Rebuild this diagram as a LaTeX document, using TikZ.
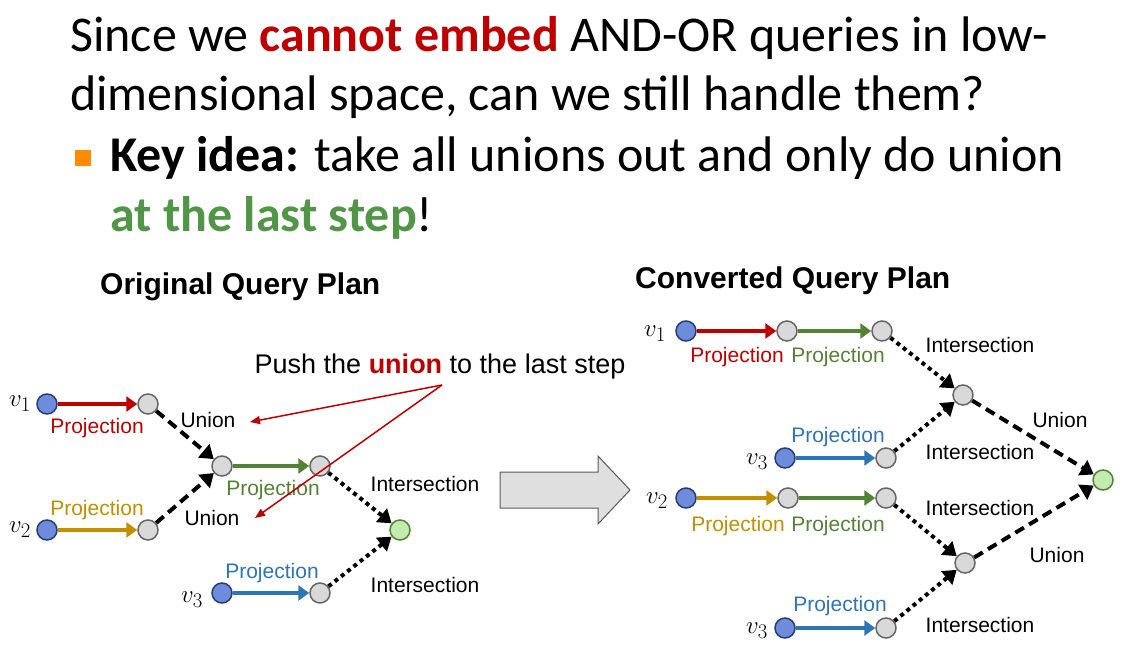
\documentclass[tikz,border=0pt]{standalone}
\usepackage{fontspec}
\setmainfont{Carlito}
\newfontfamily\arial{Liberation Sans}
\usetikzlibrary{arrows.meta}
\definecolor{cred}{RGB}{192,0,0}
\definecolor{cyel}{RGB}{191,144,0}
\definecolor{cgrn}{RGB}{84,130,53}
\definecolor{tgrn}{RGB}{80,150,70}
\definecolor{cblu}{RGB}{46,117,182}
\definecolor{nblu}{RGB}{110,140,220}
\definecolor{nbluo}{RGB}{40,60,120}
\begin{document}
\begin{tikzpicture}[x=1pt,y=-1pt,
  bn/.style={circle,draw=nbluo,fill=nblu,line width=1.5pt,minimum size=20pt,inner sep=0pt},
  gn/.style={circle,draw=gray!80!black,fill=gray!30,line width=1.5pt,minimum size=20pt,inner sep=0pt},
  en/.style={circle,draw=cgrn,fill=green!20!white!85!olive,line width=1.5pt,minimum size=20pt,inner sep=0pt},
  pr/.style={line width=4pt,-{Triangle[length=11pt,width=15pt]}},
  un/.style={line width=4pt,dash pattern=on 10pt off 6pt,-{Triangle[length=13pt,width=17pt]}},
  it/.style={line width=4pt,dash pattern=on 4pt off 4pt,-{Triangle[length=13pt,width=17pt]}},
  lb/.style={font=\arial\fontsize{21}{23}\selectfont,inner sep=1pt},
  vl/.style={font=\fontsize{28}{30}\selectfont,inner sep=0pt}]
\useasboundingbox (0,0) rectangle (1121,647);
% title
\node[anchor=west,inner sep=0pt,font=\fontsize{50}{56}\selectfont] (t1) at (70,38) {Since we \textbf{\color{cred}cannot embed} AND-OR queries in low-};
\node[anchor=west,inner sep=0pt,font=\fontsize{50}{56}\selectfont] (t2) at (70,97) {dimensional space, can we still handle them?};
\node[fill=orange!90!yellow,minimum size=16pt,inner sep=0pt] (bul) at (83,158) {};
\node[anchor=west,inner sep=0pt,font=\fontsize{50}{56}\selectfont] (t3) at (110,158) {\textbf{Key idea:} take all unions out and only do union};
\node[anchor=west,inner sep=0pt,font=\fontsize{50}{56}\selectfont] (t4) at (110,218) {\textbf{\color{tgrn}at the last step}!};
\node[anchor=west,inner sep=0pt,font=\arial\bfseries\fontsize{30}{34}\selectfont] (s1) at (100,287) {Original Query Plan};
\node[anchor=west,inner sep=0pt,font=\arial\bfseries\fontsize{30}{34}\selectfont] (s2) at (635,281) {Converted Query Plan};
% left diagram
\node[bn] (a1) at (47,404) {}; \node[vl] at (20,404) {$v_1$};
\node[gn] (a2) at (148,404) {};
\node[bn] (b1) at (47,530) {}; \node[vl] at (20,530) {$v_2$};
\node[gn] (b2) at (148,530) {};
\node[gn] (m1) at (222,466) {};
\node[gn] (m2) at (320,466) {};
\node[en] (e) at (400,530) {};
\node[bn] (c1) at (222,593) {}; \node[vl] at (192,600) {$v_3$};
\node[gn] (c2) at (320,593) {};
\draw[pr,cred] (a1) -- (a2); \node[lb,cred] at (97,428) {Projection};
\draw[pr,cyel] (b1) -- (b2); \node[lb,cyel] at (97,510) {Projection};
\draw[un] (a2) -- (m1); \node[lb] at (208,420) {Union};
\draw[un] (b2) -- (m1); \node[lb] at (212,518) {Union};
\draw[pr,cgrn] (m1) -- (m2); \node[lb,cgrn] at (273,490) {Projection};
\draw[it] (m2) -- (e); \node[lb] at (425,484) {Intersection};
\draw[pr,cblu] (c1) -- (c2); \node[lb,cblu] at (272,573) {Projection};
\draw[it] (c2) -- (e); \node[lb] at (425,585) {Intersection};
\node[lb,font=\arial\fontsize{27}{29}\selectfont] (push) at (440,367) {Push the \textbf{\color{cred}union} to the last step};
\coordinate (pf) at (442,385);
\coordinate (pa) at (250,422);
\coordinate (pb) at (255,518);
\draw[cred,line width=1.5pt,-{Triangle[length=10pt,width=8pt]}] (pf) -- (pa);
\draw[cred,line width=1.5pt,-{Triangle[length=10pt,width=8pt]}] (pf) -- (pb);
% big arrow
\draw[draw=gray!70!black,fill=gray!25,line width=1pt] (500,472) -- (598,472) -- (598,456) -- (630,490) -- (598,524) -- (598,508) -- (500,508) -- cycle;
% right diagram
\node[bn] (r1) at (686,331) {}; \node[vl] at (655,334) {$v_1$};
\node[gn] (r2) at (787,331) {};
\node[gn] (r3) at (882,331) {};
\node[gn] (i1) at (963,395) {};
\node[bn] (q1) at (785,458) {}; \node[vl] at (757,462) {$v_3$};
\node[gn] (q2) at (886,458) {};
\node[en] (f) at (1103,480) {};
\node[bn] (s1n) at (686,498) {}; \node[vl] at (657,501) {$v_2$};
\node[gn] (s2n) at (788,498) {};
\node[gn] (s3n) at (886,498) {};
\node[gn] (i2) at (965,563) {};
\node[bn] (w1) at (785,628) {}; \node[vl] at (757,631) {$v_3$};
\node[gn] (w2) at (886,628) {};
\draw[pr,cred] (r1) -- (r2); \node[lb,cred] at (737,357) {Projection};
\draw[pr,cgrn] (r2) -- (r3); \node[lb,cgrn] at (838,357) {Projection};
\draw[it] (r3) -- (i1); \node[lb] at (980,345) {Intersection};
\draw[pr,cblu] (q1) -- (q2); \node[lb,cblu] at (838,437) {Projection};
\draw[it] (q2) -- (i1); \node[lb] at (980,452) {Intersection};
\draw[un] (i1) -- (f); \node[lb] at (1060,420) {Union};
\draw[pr,cyel] (s1n) -- (s2n); \node[lb,cyel] at (738,526) {Projection};
\draw[pr,cgrn] (s2n) -- (s3n); \node[lb,cgrn] at (838,526) {Projection};
\draw[it] (s3n) -- (i2); \node[lb] at (980,508) {Intersection};
\draw[pr,cblu] (w1) -- (w2); \node[lb,cblu] at (840,606) {Projection};
\draw[it] (w2) -- (i2); \node[lb] at (980,625) {Intersection};
\draw[un] (i2) -- (f); \node[lb] at (1057,555) {Union};
\end{tikzpicture}
\end{document}
